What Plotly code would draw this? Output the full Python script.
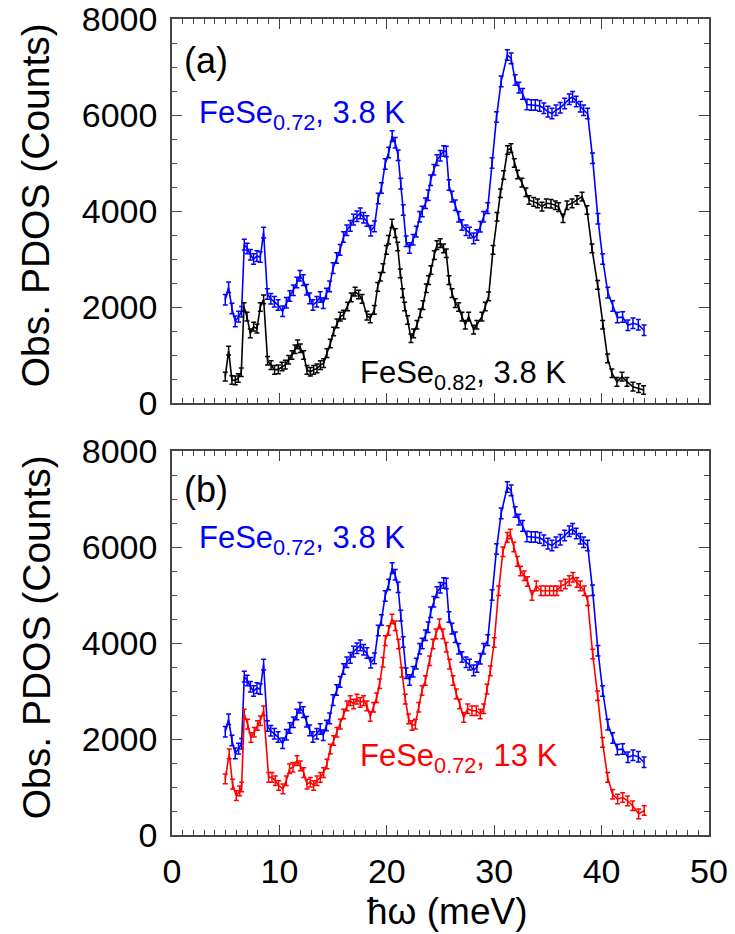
import plotly.graph_objects as go

# ---------------- data ----------------
e_blue = [4.96, 5.27, 5.58, 5.89, 6.20, 6.48, 6.73, 7.00, 7.30, 7.60, 7.91, 8.22, 8.53,
          8.88, 9.20, 9.53, 9.88, 10.30, 10.65, 10.97, 11.30, 11.62, 11.92, 12.22, 12.52,
          12.82, 13.12, 13.48, 13.80, 14.08, 14.38, 14.68, 14.99, 15.33, 15.65, 15.97,
          16.28, 16.60, 16.90, 17.22, 17.53, 17.84, 18.15, 18.50, 18.85, 19.20, 19.50,
          19.85, 20.17, 20.50, 20.78, 21.05, 21.30, 21.53, 21.80, 22.12, 22.45, 22.75,
          23.06, 23.30, 23.60, 23.85, 24.08, 24.38, 24.67, 24.98, 25.30, 25.54, 25.79,
          26.07, 26.38, 26.69, 27.00, 27.38, 27.70, 28.08, 28.39, 28.71, 29.02, 29.40,
          29.80, 30.22, 30.65, 31.22, 31.58, 31.95, 32.30, 32.65, 33.05, 33.45, 33.83,
          34.23, 34.62, 35.00, 35.38, 35.75, 36.15, 36.56, 36.99, 37.30, 37.64, 38.02,
          38.33, 38.70, 39.16, 39.66, 40.10, 40.58, 41.03, 41.47, 41.96, 42.45, 42.92,
          43.42, 43.95]
c_blue = [2150, 2410, 1970, 1700, 1800, 1900, 3300, 3220, 3090, 3000, 3060, 3040, 3550,
          2270, 2170, 2110, 2040, 1910, 2090, 2230, 2350, 2510, 2650, 2560, 2360,
          2180, 2040, 2110, 2210, 2080, 2280, 2430, 2810, 3020, 3190, 3460,
          3600, 3690, 3820, 3890, 3950, 3860, 3790, 3590, 3680, 4260, 4480,
          4980, 5220, 5560, 5420, 5160, 4570, 4020, 3370, 3230, 3400, 3570,
          3880, 3990, 4160, 4330, 4640, 4860, 5060, 5150, 5250, 5240, 4540,
          4300, 4120, 3880, 3710, 3600, 3550, 3430, 3500, 3670, 3880, 4060,
          5000, 5960, 6700, 7250, 7180, 6730, 6570, 6440, 6220, 6210, 6210,
          6190, 6140, 6070, 6030, 6100, 6150, 6240, 6330, 6380, 6280, 6170,
          6100, 6030, 5100, 3840, 3000, 2300, 2020, 1780, 1790, 1620, 1660,
          1630, 1515]

e_black = [4.96, 5.27, 5.58, 5.89, 6.17, 6.45, 6.70, 6.98, 7.29, 7.60, 7.91, 8.22, 8.53,
           8.90, 9.22, 9.55, 9.90, 10.24, 10.55, 10.86, 11.17, 11.45, 11.70, 11.95, 12.26,
           12.57, 12.88, 13.19, 13.50, 13.82, 14.12, 14.43, 14.74, 15.05, 15.36, 15.67,
           15.98, 16.35, 16.69, 17.05, 17.38, 17.70, 18.15, 18.46, 18.84, 19.15, 19.40,
           19.65, 19.96, 20.17, 20.48, 20.79, 21.01, 21.26, 21.47, 21.66, 21.94, 22.25,
           22.50, 22.81, 23.12, 23.37, 23.68, 23.89, 24.11, 24.42, 24.67, 24.98, 25.29,
           25.54, 25.79, 26.07, 26.38, 26.69, 27.00, 27.31, 27.62, 28.08, 28.39, 28.86,
           29.17, 29.48, 29.89, 30.26, 30.58, 30.88, 31.25, 31.56, 31.87, 32.18, 32.58,
           32.95, 33.25, 33.67, 34.04, 34.45, 34.85, 35.29, 35.69, 36.00, 36.41, 36.78,
           37.25, 37.71, 38.18, 38.64, 39.10, 39.63, 40.10, 40.56, 40.96, 41.43, 41.90,
           42.36, 42.92, 43.45, 43.91]
c_black = [550, 1090, 480, 470, 520, 640, 2000, 1800, 1450, 1590, 1550, 2000, 2160,
           880, 790, 690, 700, 760, 800, 900, 1000, 1120, 1220, 1140, 1000,
           690, 650, 690, 720, 790, 830, 1040, 1240, 1490, 1660, 1800,
           1840, 2010, 2200, 2320, 2260, 2170, 1820, 1760, 1940, 2420, 2630,
           2810, 3190, 3400, 3740, 3540, 3260, 2700, 2290, 2010, 1730, 1350,
           1450, 1630, 1870, 2040, 2390, 2560, 2770, 3080, 3290, 3330, 3220,
           3120, 2560, 2290, 2080, 2000, 1800, 1630, 1800, 1530, 1630, 1800,
           2010, 2220, 3190, 3880, 4370, 4750, 5270, 5310, 5000, 4760, 4590,
           4390, 4230, 4190, 4160, 4090, 4160, 4150, 4120, 4080, 3850, 4120,
           4160, 4230, 4300, 4020, 3220, 2460, 1630, 930, 620, 440, 550,
           440, 340, 310, 270]

e_red = [4.96, 5.33, 5.64, 5.99, 6.30, 6.48, 6.73, 7.04, 7.35, 7.66, 7.97, 8.22, 8.53,
         9.00, 9.31, 9.62, 9.93, 10.33, 10.64, 10.95, 11.26, 11.64, 11.95, 12.26, 12.57,
         12.88, 13.19, 13.50, 13.81, 14.12, 14.43, 14.74, 15.05, 15.36, 15.67, 15.98,
         16.29, 16.60, 16.91, 17.22, 17.53, 17.84, 18.15, 18.46, 18.77, 19.05, 19.33,
         19.64, 19.86, 20.17, 20.48, 20.79, 21.10, 21.41, 21.72, 22.03, 22.35, 22.66,
         22.97, 23.28, 23.59, 23.99, 24.30, 24.58, 24.90, 25.23, 25.54, 25.85, 26.17,
         26.47, 26.79, 27.16, 27.53, 27.93, 28.33, 28.70, 29.02, 29.33, 29.64, 30.00,
         30.41, 30.81, 31.22, 31.50, 31.83, 32.15, 32.45, 32.80, 33.10, 33.52, 33.92,
         34.35, 34.76, 35.16, 35.53, 35.84, 36.21, 36.62, 36.99, 37.33, 37.70, 38.01,
         38.39, 38.70, 39.17, 39.63, 40.09, 40.56, 41.03, 41.49, 41.96, 42.42, 42.89,
         43.45, 43.97]
c_red = [1170, 1690, 1060, 820, 920, 1000, 2520, 2310, 2030, 2140, 2280, 2380, 2590,
         1200, 1200, 1130, 1030, 960, 1130, 1380, 1410, 1550, 1440, 1300, 1060,
         1100, 1030, 1130, 1200, 1300, 1480, 1790, 1970, 2140, 2310, 2520,
         2690, 2800, 2730, 2830, 2760, 2800, 2690, 2470, 2660, 2860, 3150,
         3600, 4050, 4260, 4500, 4360, 3980, 3390, 2830, 2420, 2280, 2310,
         2660, 3010, 3220, 3630, 3980, 4190, 4400, 4190, 3910, 3560, 3220,
         2940, 2730, 2450, 2630, 2590, 2590, 2520, 2630, 3040, 3420, 4010,
         5090, 5900, 6200, 6270, 6000, 5700, 5500, 5400, 5280, 4990, 5190,
         5090, 5090, 5090, 5090, 5090, 5190, 5230, 5300, 5370, 5260, 5190,
         5090, 4880, 3770, 2900, 1930, 1200, 850, 750, 780, 710, 610,
         440, 510]

err_blue = 110
err_black = 90
err_red = 100

x_ticks = [0, 10, 20, 30, 40, 50]
y_ticks = [0, 2000, 4000, 6000, 8000]

BLUE = "#0000ff"
RED = "#ff0000"
BLACK = "#000000"
FONT = "Liberation Sans, Arial, sans-serif"


def series(x, y, err, color, xa, ya):
    return go.Scatter(
        x=x, y=y, mode="lines", xaxis=xa, yaxis=ya,
        line=dict(color=color, width=1.6),
        error_y=dict(type="constant", value=err, color=color, thickness=1.5, width=2.5),
        showlegend=False, hoverinfo="skip",
    )


fig = go.Figure()
fig.add_trace(series(e_blue, c_blue, err_blue, BLUE, "x", "y"))
fig.add_trace(series(e_black, c_black, err_black, BLACK, "x", "y"))
fig.add_trace(series(e_blue, c_blue, err_blue, BLUE, "x2", "y2"))
fig.add_trace(series(e_red, c_red, err_red, RED, "x2", "y2"))

AX = dict(
    showline=True, linecolor="#444444", linewidth=1.5, mirror="allticks",
    ticks="inside", ticklen=10, tickwidth=1.3, tickcolor="#444444",
    showgrid=False, zeroline=False, automargin=False,
    tickfont=dict(family=FONT, size=34, color="black"),
)

xa = dict(AX, range=[0, 50], tickvals=x_ticks,
          minor=dict(dtick=1, ticks="inside", ticklen=5, tickwidth=1, tickcolor="#444444"))
ya = dict(AX, range=[0, 8000], tickvals=y_ticks, ticklabelstandoff=6,
          ticklabeloverflow="allow",
          minor=dict(dtick=500, ticks="inside", ticklen=5, tickwidth=1, tickcolor="#444444"))

top_dom = [432 / 816, 1.0]
bot_dom = [0.0, 384 / 816]

fig.update_layout(
    width=735, height=934,
    margin=dict(l=172, r=26, t=19, b=99, autoexpand=False),
    paper_bgcolor="white", plot_bgcolor="white",
    font=dict(family=FONT, color="black"),
    xaxis=dict(xa, domain=[0, 1], anchor="y", showticklabels=False),
    yaxis=dict(ya, domain=top_dom, anchor="x"),
    xaxis2=dict(xa, domain=[0, 1], anchor="y2", showticklabels=True, ticklabelstandoff=5),
    yaxis2=dict(ya, domain=bot_dom, anchor="x2"),
)


def px_x(px):
    return (px - 171.7) / 537.0


def px_y(py):
    return (835.0 - py) / 816.0


annos = [
    dict(text="(a)", x=px_x(182), y=px_y(60), size=36, color="black"),
    dict(text="(b)", x=px_x(182), y=px_y(490), size=36, color="black"),
    dict(text="FeSe<sub>0.72</sub>, 3.8 K", x=px_x(197), y=px_y(115), size=31, color=BLUE),
    dict(text="FeSe<sub>0.82</sub>, 3.8 K", x=px_x(358), y=px_y(375), size=31, color="black"),
    dict(text="FeSe<sub>0.72</sub>, 3.8 K", x=px_x(197), y=px_y(540), size=31, color=BLUE),
    dict(text="FeSe<sub>0.72</sub>, 13 K", x=px_x(358), y=px_y(758), size=31, color=RED),
]
for a in annos:
    fig.add_annotation(text=a["text"], x=a["x"], y=a["y"], xref="paper", yref="paper",
                       xanchor="left", yanchor="middle", showarrow=False,
                       font=dict(family=FONT, size=a["size"], color=a["color"]))

# axis titles
for cy in (205, 637):
    fig.add_annotation(text="Obs. PDOS (Counts)", x=px_x(36), y=px_y(cy),
                       xref="paper", yref="paper", xanchor="center", yanchor="middle",
                       textangle=-90, showarrow=False,
                       font=dict(family=FONT, size=39, color="black"))
fig.add_annotation(text="ħω (meV)", x=px_x(447), y=px_y(912), xref="paper", yref="paper",
                   xanchor="center", yanchor="middle", showarrow=False,
                   font=dict(family=FONT, size=37, color="black"))

fig.write_html("out.html")
